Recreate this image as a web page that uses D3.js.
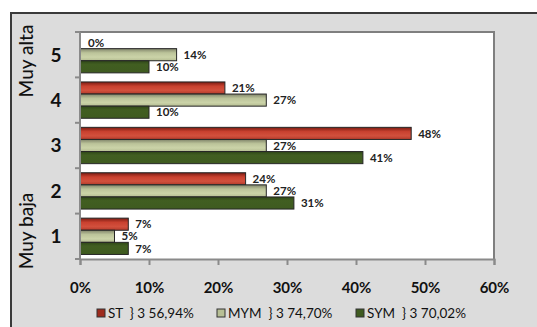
<!DOCTYPE html>
<html><head><meta charset="utf-8">
<script src="https://cdn.jsdelivr.net/npm/d3@7/dist/d3.min.js"></script>
<style>html,body{margin:0;padding:0;background:#fff;}svg{display:block;}</style>
</head><body>
<svg id="c" width="537" height="327"></svg>
<script>
const categories = ["5","4","3","2","1"];
const seriesNames = ["ST","MYM","SYM"];
const legendLabels = ["ST  } 3 56,94%","MYM  } 3 74,70%","SYM  } 3 70,02%"];
const stValues  = [0, 21, 48, 24, 7];
const mymValues = [14, 27, 27, 27, 5];
const symValues = [10, 10, 41, 31, 7];
const xTicks = [0, 10, 20, 30, 40, 50, 60];
const sideLabels = ["Muy alta", "Muy baja"];

const FONT = "Lato, 'DejaVu Sans', sans-serif";
const svg = d3.select("#c");
const defs = svg.append("defs");
function grad(id, stops){
  const g = defs.append("linearGradient").attr("id", id).attr("x1",0).attr("y1",0).attr("x2",0).attr("y2",1);
  stops.forEach(s => g.append("stop").attr("offset", s[0]).attr("stop-color", s[1]));
}
grad("gST", [[0,"#7a1b12"],[0.35,"#c9412f"],[0.7,"#d2503d"],[1,"#b23a2a"]]);
grad("gMYM", [[0,"#80846a"],[0.35,"#bcc49a"],[0.7,"#cbd3a8"],[1,"#b5bd92"]]);
grad("gSYM", [[0,"#2f4718"],[0.3,"#415e21"],[1,"#3f5b20"]]);
const fills = ["url(#gST)","url(#gMYM)","url(#gSYM)"];
const swatch = ["#9e2b1d","#b7bf95","#3f5b20"];

// outer chart area
svg.append("rect").attr("x",11).attr("y",13).attr("width",540).attr("height",330)
  .attr("fill","#dcdcdc").attr("stroke","#3a3a3a").attr("stroke-width",2);

const m = {l:80, t:32, r:494, b:259};
const x = d3.scaleLinear().domain([0,60]).range([m.l, m.r]);
const y = d3.scaleBand().domain(categories).range([m.t, m.b]).paddingInner(0.2).paddingOuter(0.1);
const yTickScale = d3.scaleBand().domain(categories).range([m.t, m.b]);
const ys = d3.scaleBand().domain(seriesNames).range([0, y.bandwidth()]);

// plot area
svg.append("rect").attr("x",m.l).attr("y",m.t).attr("width",m.r-m.l).attr("height",m.b-m.t)
  .attr("fill","#fff");
svg.append("path").attr("d",`M${m.l},${m.t}H${m.r}V${m.b}`).attr("fill","none")
  .attr("stroke","#7f7f7f").attr("stroke-width",2);

const data = [stValues, mymValues, symValues];
const g = svg.append("g");
categories.forEach((c, ci) => {
  seriesNames.forEach((s, si) => {
    const v = data[si][ci];
    const y0 = y(c) + ys(s);
    if (v > 0) {
      g.append("rect").attr("x", x(0)).attr("y", y0).attr("width", x(v)-x(0)).attr("height", ys.bandwidth())
        .attr("fill", fills[si]).attr("stroke","#262626").attr("stroke-width",1);
    }
    g.append("text").attr("x", x(v) + (v>0?7:8)).attr("y", y0 + ys.bandwidth()/2)
      .attr("dy","0.36em").attr("font-family",FONT)
      .attr("font-weight","bold").attr("font-size",11.5).attr("fill","#222")
      .text(v + "%");
  });
});

// axes
svg.append("line").attr("x1",m.l).attr("x2",m.l).attr("y1",m.t).attr("y2",m.b).attr("stroke","#8a8a8a").attr("stroke-width",2);
const yTickPos = categories.map(c => yTickScale(c)).concat([m.b]);
yTickPos.forEach(p => svg.append("line").attr("x1",m.l-5).attr("x2",m.l).attr("y1",p).attr("y2",p).attr("stroke","#8a8a8a").attr("stroke-width",2));
categories.forEach(c => {
  svg.append("text").attr("x",56).attr("y", yTickScale(c)+yTickScale.bandwidth()/2).attr("dy","0.36em")
    .attr("text-anchor","middle").attr("font-family",FONT)
    .attr("font-weight","bold").attr("font-size",19).attr("fill","#111").text(c);
});

const xAxis = d3.axisBottom(x).tickValues(xTicks).tickSize(6).tickFormat(d => d + "%");
const xa = svg.append("g").attr("transform",`translate(0,${m.b})`).call(xAxis);
xa.select(".domain").attr("stroke","#8a8a8a").attr("stroke-width",2);
xa.selectAll(".tick line").attr("stroke","#8a8a8a").attr("stroke-width",2);
xa.selectAll(".tick text").attr("y",23).attr("font-family",FONT)
  .attr("font-weight","bold").attr("font-size",15).attr("fill","#111");

// side labels
[[sideLabels[0], 61], [sideLabels[1], 231]].forEach(([t, cy]) => {
  svg.append("text").attr("transform",`translate(33,${cy}) rotate(-90)`).attr("text-anchor","middle")
    .attr("font-family",FONT).attr("font-size",19).attr("font-weight","500")
    .attr("fill","#111").text(t);
});

// legend
const lx = [97, 217, 356];
legendLabels.forEach((t, i) => {
  svg.append("rect").attr("x", lx[i]).attr("y", 309).attr("width", 8).attr("height", 8)
    .attr("fill", swatch[i]).attr("stroke","#333").attr("stroke-width",1);
  svg.append("text").attr("x", lx[i] + 11).attr("y", 313).attr("dy","0.36em")
    .attr("font-family",FONT).attr("font-size",13.5).attr("fill","#111")
    .attr("xml:space","preserve").style("white-space","pre").text(t);
});
</script>
</body></html>
